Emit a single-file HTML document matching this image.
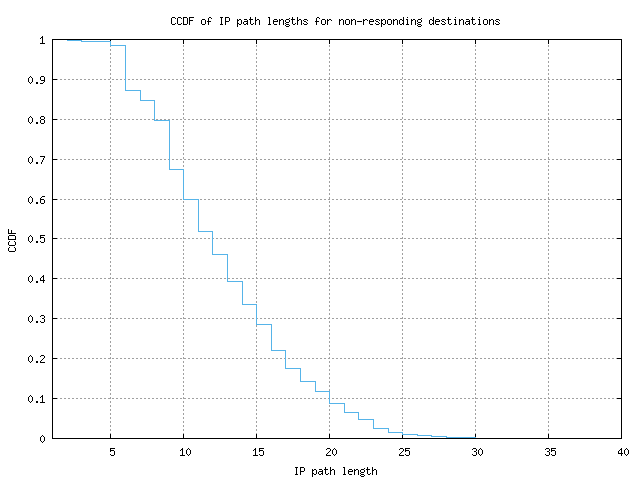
<!DOCTYPE html>
<html><head><meta charset="utf-8"><title>CCDF of IP path lengths for non-responding destinations</title>
<style>
html,body{margin:0;padding:0;background:#fff;overflow:hidden}
body{width:640px;height:480px;font-family:"Liberation Mono",monospace}
svg{display:block;position:absolute;left:0;top:0}
</style></head><body>
<svg width="640" height="480" viewBox="0 0 640 480" shape-rendering="crispEdges">
<title>CCDF of IP path lengths for non-responding destinations</title>
<desc>gnuplot step chart. X axis: IP path length (1 to 40, ticks 5 10 15 20 25 30 35 40). Y axis: CCDF (0 to 1, ticks 0 0.1 0.2 0.3 0.4 0.5 0.6 0.7 0.8 0.9 1). Sky-blue step curve falling from 1 at length 2 to 0 at length 30.</desc>
<rect width="640" height="480" fill="#fff"/>
<path fill="#a0a0a0" d="M110 41h1v2h-1zM183 41h1v2h-1zM256 41h1v2h-1zM329 41h1v2h-1zM402 41h1v2h-1zM475 41h1v2h-1zM548 41h1v2h-1zM110 45h1v2h-1zM183 45h1v2h-1zM256 45h1v2h-1zM329 45h1v2h-1zM402 45h1v2h-1zM475 45h1v2h-1zM548 45h1v2h-1zM110 49h1v2h-1zM183 49h1v2h-1zM256 49h1v2h-1zM329 49h1v2h-1zM402 49h1v2h-1zM475 49h1v2h-1zM548 49h1v2h-1zM110 53h1v2h-1zM183 53h1v2h-1zM256 53h1v2h-1zM329 53h1v2h-1zM402 53h1v2h-1zM475 53h1v2h-1zM548 53h1v2h-1zM110 57h1v2h-1zM183 57h1v2h-1zM256 57h1v2h-1zM329 57h1v2h-1zM402 57h1v2h-1zM475 57h1v2h-1zM548 57h1v2h-1zM110 61h1v2h-1zM183 61h1v2h-1zM256 61h1v2h-1zM329 61h1v2h-1zM402 61h1v2h-1zM475 61h1v2h-1zM548 61h1v2h-1zM110 65h1v2h-1zM183 65h1v2h-1zM256 65h1v2h-1zM329 65h1v2h-1zM402 65h1v2h-1zM475 65h1v2h-1zM548 65h1v2h-1zM110 69h1v2h-1zM183 69h1v2h-1zM256 69h1v2h-1zM329 69h1v2h-1zM402 69h1v2h-1zM475 69h1v2h-1zM548 69h1v2h-1zM110 73h1v2h-1zM183 73h1v2h-1zM256 73h1v2h-1zM329 73h1v2h-1zM402 73h1v2h-1zM475 73h1v2h-1zM548 73h1v2h-1zM110 77h1v2h-1zM183 77h1v2h-1zM256 77h1v2h-1zM329 77h1v2h-1zM402 77h1v2h-1zM475 77h1v2h-1zM548 77h1v2h-1zM52 79h2v1h-2zM56 79h2v1h-2zM60 79h2v1h-2zM64 79h2v1h-2zM68 79h2v1h-2zM72 79h2v1h-2zM76 79h2v1h-2zM80 79h2v1h-2zM84 79h2v1h-2zM88 79h2v1h-2zM92 79h2v1h-2zM96 79h2v1h-2zM100 79h2v1h-2zM104 79h2v1h-2zM108 79h2v1h-2zM112 79h2v1h-2zM116 79h2v1h-2zM120 79h2v1h-2zM124 79h2v1h-2zM128 79h2v1h-2zM132 79h2v1h-2zM136 79h2v1h-2zM140 79h2v1h-2zM144 79h2v1h-2zM148 79h2v1h-2zM152 79h2v1h-2zM156 79h2v1h-2zM160 79h2v1h-2zM164 79h2v1h-2zM168 79h2v1h-2zM172 79h2v1h-2zM176 79h2v1h-2zM180 79h2v1h-2zM184 79h2v1h-2zM188 79h2v1h-2zM192 79h2v1h-2zM196 79h2v1h-2zM200 79h2v1h-2zM204 79h2v1h-2zM208 79h2v1h-2zM212 79h2v1h-2zM216 79h2v1h-2zM220 79h2v1h-2zM224 79h2v1h-2zM228 79h2v1h-2zM232 79h2v1h-2zM236 79h2v1h-2zM240 79h2v1h-2zM244 79h2v1h-2zM248 79h2v1h-2zM252 79h2v1h-2zM256 79h2v1h-2zM260 79h2v1h-2zM264 79h2v1h-2zM268 79h2v1h-2zM272 79h2v1h-2zM276 79h2v1h-2zM280 79h2v1h-2zM284 79h2v1h-2zM288 79h2v1h-2zM292 79h2v1h-2zM296 79h2v1h-2zM300 79h2v1h-2zM304 79h2v1h-2zM308 79h2v1h-2zM312 79h2v1h-2zM316 79h2v1h-2zM320 79h2v1h-2zM324 79h2v1h-2zM328 79h2v1h-2zM332 79h2v1h-2zM336 79h2v1h-2zM340 79h2v1h-2zM344 79h2v1h-2zM348 79h2v1h-2zM352 79h2v1h-2zM356 79h2v1h-2zM360 79h2v1h-2zM364 79h2v1h-2zM368 79h2v1h-2zM372 79h2v1h-2zM376 79h2v1h-2zM380 79h2v1h-2zM384 79h2v1h-2zM388 79h2v1h-2zM392 79h2v1h-2zM396 79h2v1h-2zM400 79h2v1h-2zM404 79h2v1h-2zM408 79h2v1h-2zM412 79h2v1h-2zM416 79h2v1h-2zM420 79h2v1h-2zM424 79h2v1h-2zM428 79h2v1h-2zM432 79h2v1h-2zM436 79h2v1h-2zM440 79h2v1h-2zM444 79h2v1h-2zM448 79h2v1h-2zM452 79h2v1h-2zM456 79h2v1h-2zM460 79h2v1h-2zM464 79h2v1h-2zM468 79h2v1h-2zM472 79h2v1h-2zM476 79h2v1h-2zM480 79h2v1h-2zM484 79h2v1h-2zM488 79h2v1h-2zM492 79h2v1h-2zM496 79h2v1h-2zM500 79h2v1h-2zM504 79h2v1h-2zM508 79h2v1h-2zM512 79h2v1h-2zM516 79h2v1h-2zM520 79h2v1h-2zM524 79h2v1h-2zM528 79h2v1h-2zM532 79h2v1h-2zM536 79h2v1h-2zM540 79h2v1h-2zM544 79h2v1h-2zM548 79h2v1h-2zM552 79h2v1h-2zM556 79h2v1h-2zM560 79h2v1h-2zM564 79h2v1h-2zM568 79h2v1h-2zM572 79h2v1h-2zM576 79h2v1h-2zM580 79h2v1h-2zM584 79h2v1h-2zM588 79h2v1h-2zM592 79h2v1h-2zM596 79h2v1h-2zM600 79h2v1h-2zM604 79h2v1h-2zM608 79h2v1h-2zM612 79h2v1h-2zM616 79h2v1h-2zM620 79h2v1h-2zM110 81h1v2h-1zM183 81h1v2h-1zM256 81h1v2h-1zM329 81h1v2h-1zM402 81h1v2h-1zM475 81h1v2h-1zM548 81h1v2h-1zM110 85h1v2h-1zM183 85h1v2h-1zM256 85h1v2h-1zM329 85h1v2h-1zM402 85h1v2h-1zM475 85h1v2h-1zM548 85h1v2h-1zM110 89h1v2h-1zM183 89h1v2h-1zM256 89h1v2h-1zM329 89h1v2h-1zM402 89h1v2h-1zM475 89h1v2h-1zM548 89h1v2h-1zM110 93h1v2h-1zM183 93h1v2h-1zM256 93h1v2h-1zM329 93h1v2h-1zM402 93h1v2h-1zM475 93h1v2h-1zM548 93h1v2h-1zM110 97h1v2h-1zM183 97h1v2h-1zM256 97h1v2h-1zM329 97h1v2h-1zM402 97h1v2h-1zM475 97h1v2h-1zM548 97h1v2h-1zM110 101h1v2h-1zM183 101h1v2h-1zM256 101h1v2h-1zM329 101h1v2h-1zM402 101h1v2h-1zM475 101h1v2h-1zM548 101h1v2h-1zM110 105h1v2h-1zM183 105h1v2h-1zM256 105h1v2h-1zM329 105h1v2h-1zM402 105h1v2h-1zM475 105h1v2h-1zM548 105h1v2h-1zM110 109h1v2h-1zM183 109h1v2h-1zM256 109h1v2h-1zM329 109h1v2h-1zM402 109h1v2h-1zM475 109h1v2h-1zM548 109h1v2h-1zM110 113h1v2h-1zM183 113h1v2h-1zM256 113h1v2h-1zM329 113h1v2h-1zM402 113h1v2h-1zM475 113h1v2h-1zM548 113h1v2h-1zM110 117h1v2h-1zM183 117h1v2h-1zM256 117h1v2h-1zM329 117h1v2h-1zM402 117h1v2h-1zM475 117h1v2h-1zM548 117h1v2h-1zM52 119h2v1h-2zM56 119h2v1h-2zM60 119h2v1h-2zM64 119h2v1h-2zM68 119h2v1h-2zM72 119h2v1h-2zM76 119h2v1h-2zM80 119h2v1h-2zM84 119h2v1h-2zM88 119h2v1h-2zM92 119h2v1h-2zM96 119h2v1h-2zM100 119h2v1h-2zM104 119h2v1h-2zM108 119h2v1h-2zM112 119h2v1h-2zM116 119h2v1h-2zM120 119h2v1h-2zM124 119h2v1h-2zM128 119h2v1h-2zM132 119h2v1h-2zM136 119h2v1h-2zM140 119h2v1h-2zM144 119h2v1h-2zM148 119h2v1h-2zM152 119h2v1h-2zM156 119h2v1h-2zM160 119h2v1h-2zM164 119h2v1h-2zM168 119h2v1h-2zM172 119h2v1h-2zM176 119h2v1h-2zM180 119h2v1h-2zM184 119h2v1h-2zM188 119h2v1h-2zM192 119h2v1h-2zM196 119h2v1h-2zM200 119h2v1h-2zM204 119h2v1h-2zM208 119h2v1h-2zM212 119h2v1h-2zM216 119h2v1h-2zM220 119h2v1h-2zM224 119h2v1h-2zM228 119h2v1h-2zM232 119h2v1h-2zM236 119h2v1h-2zM240 119h2v1h-2zM244 119h2v1h-2zM248 119h2v1h-2zM252 119h2v1h-2zM256 119h2v1h-2zM260 119h2v1h-2zM264 119h2v1h-2zM268 119h2v1h-2zM272 119h2v1h-2zM276 119h2v1h-2zM280 119h2v1h-2zM284 119h2v1h-2zM288 119h2v1h-2zM292 119h2v1h-2zM296 119h2v1h-2zM300 119h2v1h-2zM304 119h2v1h-2zM308 119h2v1h-2zM312 119h2v1h-2zM316 119h2v1h-2zM320 119h2v1h-2zM324 119h2v1h-2zM328 119h2v1h-2zM332 119h2v1h-2zM336 119h2v1h-2zM340 119h2v1h-2zM344 119h2v1h-2zM348 119h2v1h-2zM352 119h2v1h-2zM356 119h2v1h-2zM360 119h2v1h-2zM364 119h2v1h-2zM368 119h2v1h-2zM372 119h2v1h-2zM376 119h2v1h-2zM380 119h2v1h-2zM384 119h2v1h-2zM388 119h2v1h-2zM392 119h2v1h-2zM396 119h2v1h-2zM400 119h2v1h-2zM404 119h2v1h-2zM408 119h2v1h-2zM412 119h2v1h-2zM416 119h2v1h-2zM420 119h2v1h-2zM424 119h2v1h-2zM428 119h2v1h-2zM432 119h2v1h-2zM436 119h2v1h-2zM440 119h2v1h-2zM444 119h2v1h-2zM448 119h2v1h-2zM452 119h2v1h-2zM456 119h2v1h-2zM460 119h2v1h-2zM464 119h2v1h-2zM468 119h2v1h-2zM472 119h2v1h-2zM476 119h2v1h-2zM480 119h2v1h-2zM484 119h2v1h-2zM488 119h2v1h-2zM492 119h2v1h-2zM496 119h2v1h-2zM500 119h2v1h-2zM504 119h2v1h-2zM508 119h2v1h-2zM512 119h2v1h-2zM516 119h2v1h-2zM520 119h2v1h-2zM524 119h2v1h-2zM528 119h2v1h-2zM532 119h2v1h-2zM536 119h2v1h-2zM540 119h2v1h-2zM544 119h2v1h-2zM548 119h2v1h-2zM552 119h2v1h-2zM556 119h2v1h-2zM560 119h2v1h-2zM564 119h2v1h-2zM568 119h2v1h-2zM572 119h2v1h-2zM576 119h2v1h-2zM580 119h2v1h-2zM584 119h2v1h-2zM588 119h2v1h-2zM592 119h2v1h-2zM596 119h2v1h-2zM600 119h2v1h-2zM604 119h2v1h-2zM608 119h2v1h-2zM612 119h2v1h-2zM616 119h2v1h-2zM620 119h2v1h-2zM110 121h1v2h-1zM183 121h1v2h-1zM256 121h1v2h-1zM329 121h1v2h-1zM402 121h1v2h-1zM475 121h1v2h-1zM548 121h1v2h-1zM110 125h1v2h-1zM183 125h1v2h-1zM256 125h1v2h-1zM329 125h1v2h-1zM402 125h1v2h-1zM475 125h1v2h-1zM548 125h1v2h-1zM110 129h1v2h-1zM183 129h1v2h-1zM256 129h1v2h-1zM329 129h1v2h-1zM402 129h1v2h-1zM475 129h1v2h-1zM548 129h1v2h-1zM110 133h1v2h-1zM183 133h1v2h-1zM256 133h1v2h-1zM329 133h1v2h-1zM402 133h1v2h-1zM475 133h1v2h-1zM548 133h1v2h-1zM110 137h1v2h-1zM183 137h1v2h-1zM256 137h1v2h-1zM329 137h1v2h-1zM402 137h1v2h-1zM475 137h1v2h-1zM548 137h1v2h-1zM110 141h1v2h-1zM183 141h1v2h-1zM256 141h1v2h-1zM329 141h1v2h-1zM402 141h1v2h-1zM475 141h1v2h-1zM548 141h1v2h-1zM110 145h1v2h-1zM183 145h1v2h-1zM256 145h1v2h-1zM329 145h1v2h-1zM402 145h1v2h-1zM475 145h1v2h-1zM548 145h1v2h-1zM110 149h1v2h-1zM183 149h1v2h-1zM256 149h1v2h-1zM329 149h1v2h-1zM402 149h1v2h-1zM475 149h1v2h-1zM548 149h1v2h-1zM110 153h1v2h-1zM183 153h1v2h-1zM256 153h1v2h-1zM329 153h1v2h-1zM402 153h1v2h-1zM475 153h1v2h-1zM548 153h1v2h-1zM110 157h1v2h-1zM183 157h1v2h-1zM256 157h1v2h-1zM329 157h1v2h-1zM402 157h1v2h-1zM475 157h1v2h-1zM548 157h1v2h-1zM52 159h2v1h-2zM56 159h2v1h-2zM60 159h2v1h-2zM64 159h2v1h-2zM68 159h2v1h-2zM72 159h2v1h-2zM76 159h2v1h-2zM80 159h2v1h-2zM84 159h2v1h-2zM88 159h2v1h-2zM92 159h2v1h-2zM96 159h2v1h-2zM100 159h2v1h-2zM104 159h2v1h-2zM108 159h2v1h-2zM112 159h2v1h-2zM116 159h2v1h-2zM120 159h2v1h-2zM124 159h2v1h-2zM128 159h2v1h-2zM132 159h2v1h-2zM136 159h2v1h-2zM140 159h2v1h-2zM144 159h2v1h-2zM148 159h2v1h-2zM152 159h2v1h-2zM156 159h2v1h-2zM160 159h2v1h-2zM164 159h2v1h-2zM168 159h2v1h-2zM172 159h2v1h-2zM176 159h2v1h-2zM180 159h2v1h-2zM184 159h2v1h-2zM188 159h2v1h-2zM192 159h2v1h-2zM196 159h2v1h-2zM200 159h2v1h-2zM204 159h2v1h-2zM208 159h2v1h-2zM212 159h2v1h-2zM216 159h2v1h-2zM220 159h2v1h-2zM224 159h2v1h-2zM228 159h2v1h-2zM232 159h2v1h-2zM236 159h2v1h-2zM240 159h2v1h-2zM244 159h2v1h-2zM248 159h2v1h-2zM252 159h2v1h-2zM256 159h2v1h-2zM260 159h2v1h-2zM264 159h2v1h-2zM268 159h2v1h-2zM272 159h2v1h-2zM276 159h2v1h-2zM280 159h2v1h-2zM284 159h2v1h-2zM288 159h2v1h-2zM292 159h2v1h-2zM296 159h2v1h-2zM300 159h2v1h-2zM304 159h2v1h-2zM308 159h2v1h-2zM312 159h2v1h-2zM316 159h2v1h-2zM320 159h2v1h-2zM324 159h2v1h-2zM328 159h2v1h-2zM332 159h2v1h-2zM336 159h2v1h-2zM340 159h2v1h-2zM344 159h2v1h-2zM348 159h2v1h-2zM352 159h2v1h-2zM356 159h2v1h-2zM360 159h2v1h-2zM364 159h2v1h-2zM368 159h2v1h-2zM372 159h2v1h-2zM376 159h2v1h-2zM380 159h2v1h-2zM384 159h2v1h-2zM388 159h2v1h-2zM392 159h2v1h-2zM396 159h2v1h-2zM400 159h2v1h-2zM404 159h2v1h-2zM408 159h2v1h-2zM412 159h2v1h-2zM416 159h2v1h-2zM420 159h2v1h-2zM424 159h2v1h-2zM428 159h2v1h-2zM432 159h2v1h-2zM436 159h2v1h-2zM440 159h2v1h-2zM444 159h2v1h-2zM448 159h2v1h-2zM452 159h2v1h-2zM456 159h2v1h-2zM460 159h2v1h-2zM464 159h2v1h-2zM468 159h2v1h-2zM472 159h2v1h-2zM476 159h2v1h-2zM480 159h2v1h-2zM484 159h2v1h-2zM488 159h2v1h-2zM492 159h2v1h-2zM496 159h2v1h-2zM500 159h2v1h-2zM504 159h2v1h-2zM508 159h2v1h-2zM512 159h2v1h-2zM516 159h2v1h-2zM520 159h2v1h-2zM524 159h2v1h-2zM528 159h2v1h-2zM532 159h2v1h-2zM536 159h2v1h-2zM540 159h2v1h-2zM544 159h2v1h-2zM548 159h2v1h-2zM552 159h2v1h-2zM556 159h2v1h-2zM560 159h2v1h-2zM564 159h2v1h-2zM568 159h2v1h-2zM572 159h2v1h-2zM576 159h2v1h-2zM580 159h2v1h-2zM584 159h2v1h-2zM588 159h2v1h-2zM592 159h2v1h-2zM596 159h2v1h-2zM600 159h2v1h-2zM604 159h2v1h-2zM608 159h2v1h-2zM612 159h2v1h-2zM616 159h2v1h-2zM620 159h2v1h-2zM110 161h1v2h-1zM183 161h1v2h-1zM256 161h1v2h-1zM329 161h1v2h-1zM402 161h1v2h-1zM475 161h1v2h-1zM548 161h1v2h-1zM110 165h1v2h-1zM183 165h1v2h-1zM256 165h1v2h-1zM329 165h1v2h-1zM402 165h1v2h-1zM475 165h1v2h-1zM548 165h1v2h-1zM110 169h1v2h-1zM183 169h1v2h-1zM256 169h1v2h-1zM329 169h1v2h-1zM402 169h1v2h-1zM475 169h1v2h-1zM548 169h1v2h-1zM110 173h1v2h-1zM183 173h1v2h-1zM256 173h1v2h-1zM329 173h1v2h-1zM402 173h1v2h-1zM475 173h1v2h-1zM548 173h1v2h-1zM110 177h1v2h-1zM183 177h1v2h-1zM256 177h1v2h-1zM329 177h1v2h-1zM402 177h1v2h-1zM475 177h1v2h-1zM548 177h1v2h-1zM110 181h1v2h-1zM183 181h1v2h-1zM256 181h1v2h-1zM329 181h1v2h-1zM402 181h1v2h-1zM475 181h1v2h-1zM548 181h1v2h-1zM110 185h1v2h-1zM183 185h1v2h-1zM256 185h1v2h-1zM329 185h1v2h-1zM402 185h1v2h-1zM475 185h1v2h-1zM548 185h1v2h-1zM110 189h1v2h-1zM183 189h1v2h-1zM256 189h1v2h-1zM329 189h1v2h-1zM402 189h1v2h-1zM475 189h1v2h-1zM548 189h1v2h-1zM110 193h1v2h-1zM183 193h1v2h-1zM256 193h1v2h-1zM329 193h1v2h-1zM402 193h1v2h-1zM475 193h1v2h-1zM548 193h1v2h-1zM110 197h1v2h-1zM183 197h1v2h-1zM256 197h1v2h-1zM329 197h1v2h-1zM402 197h1v2h-1zM475 197h1v2h-1zM548 197h1v2h-1zM52 199h2v1h-2zM56 199h2v1h-2zM60 199h2v1h-2zM64 199h2v1h-2zM68 199h2v1h-2zM72 199h2v1h-2zM76 199h2v1h-2zM80 199h2v1h-2zM84 199h2v1h-2zM88 199h2v1h-2zM92 199h2v1h-2zM96 199h2v1h-2zM100 199h2v1h-2zM104 199h2v1h-2zM108 199h2v1h-2zM112 199h2v1h-2zM116 199h2v1h-2zM120 199h2v1h-2zM124 199h2v1h-2zM128 199h2v1h-2zM132 199h2v1h-2zM136 199h2v1h-2zM140 199h2v1h-2zM144 199h2v1h-2zM148 199h2v1h-2zM152 199h2v1h-2zM156 199h2v1h-2zM160 199h2v1h-2zM164 199h2v1h-2zM168 199h2v1h-2zM172 199h2v1h-2zM176 199h2v1h-2zM180 199h2v1h-2zM184 199h2v1h-2zM188 199h2v1h-2zM192 199h2v1h-2zM196 199h2v1h-2zM200 199h2v1h-2zM204 199h2v1h-2zM208 199h2v1h-2zM212 199h2v1h-2zM216 199h2v1h-2zM220 199h2v1h-2zM224 199h2v1h-2zM228 199h2v1h-2zM232 199h2v1h-2zM236 199h2v1h-2zM240 199h2v1h-2zM244 199h2v1h-2zM248 199h2v1h-2zM252 199h2v1h-2zM256 199h2v1h-2zM260 199h2v1h-2zM264 199h2v1h-2zM268 199h2v1h-2zM272 199h2v1h-2zM276 199h2v1h-2zM280 199h2v1h-2zM284 199h2v1h-2zM288 199h2v1h-2zM292 199h2v1h-2zM296 199h2v1h-2zM300 199h2v1h-2zM304 199h2v1h-2zM308 199h2v1h-2zM312 199h2v1h-2zM316 199h2v1h-2zM320 199h2v1h-2zM324 199h2v1h-2zM328 199h2v1h-2zM332 199h2v1h-2zM336 199h2v1h-2zM340 199h2v1h-2zM344 199h2v1h-2zM348 199h2v1h-2zM352 199h2v1h-2zM356 199h2v1h-2zM360 199h2v1h-2zM364 199h2v1h-2zM368 199h2v1h-2zM372 199h2v1h-2zM376 199h2v1h-2zM380 199h2v1h-2zM384 199h2v1h-2zM388 199h2v1h-2zM392 199h2v1h-2zM396 199h2v1h-2zM400 199h2v1h-2zM404 199h2v1h-2zM408 199h2v1h-2zM412 199h2v1h-2zM416 199h2v1h-2zM420 199h2v1h-2zM424 199h2v1h-2zM428 199h2v1h-2zM432 199h2v1h-2zM436 199h2v1h-2zM440 199h2v1h-2zM444 199h2v1h-2zM448 199h2v1h-2zM452 199h2v1h-2zM456 199h2v1h-2zM460 199h2v1h-2zM464 199h2v1h-2zM468 199h2v1h-2zM472 199h2v1h-2zM476 199h2v1h-2zM480 199h2v1h-2zM484 199h2v1h-2zM488 199h2v1h-2zM492 199h2v1h-2zM496 199h2v1h-2zM500 199h2v1h-2zM504 199h2v1h-2zM508 199h2v1h-2zM512 199h2v1h-2zM516 199h2v1h-2zM520 199h2v1h-2zM524 199h2v1h-2zM528 199h2v1h-2zM532 199h2v1h-2zM536 199h2v1h-2zM540 199h2v1h-2zM544 199h2v1h-2zM548 199h2v1h-2zM552 199h2v1h-2zM556 199h2v1h-2zM560 199h2v1h-2zM564 199h2v1h-2zM568 199h2v1h-2zM572 199h2v1h-2zM576 199h2v1h-2zM580 199h2v1h-2zM584 199h2v1h-2zM588 199h2v1h-2zM592 199h2v1h-2zM596 199h2v1h-2zM600 199h2v1h-2zM604 199h2v1h-2zM608 199h2v1h-2zM612 199h2v1h-2zM616 199h2v1h-2zM620 199h2v1h-2zM110 201h1v2h-1zM183 201h1v2h-1zM256 201h1v2h-1zM329 201h1v2h-1zM402 201h1v2h-1zM475 201h1v2h-1zM548 201h1v2h-1zM110 205h1v2h-1zM183 205h1v2h-1zM256 205h1v2h-1zM329 205h1v2h-1zM402 205h1v2h-1zM475 205h1v2h-1zM548 205h1v2h-1zM110 209h1v2h-1zM183 209h1v2h-1zM256 209h1v2h-1zM329 209h1v2h-1zM402 209h1v2h-1zM475 209h1v2h-1zM548 209h1v2h-1zM110 213h1v2h-1zM183 213h1v2h-1zM256 213h1v2h-1zM329 213h1v2h-1zM402 213h1v2h-1zM475 213h1v2h-1zM548 213h1v2h-1zM110 217h1v2h-1zM183 217h1v2h-1zM256 217h1v2h-1zM329 217h1v2h-1zM402 217h1v2h-1zM475 217h1v2h-1zM548 217h1v2h-1zM110 221h1v2h-1zM183 221h1v2h-1zM256 221h1v2h-1zM329 221h1v2h-1zM402 221h1v2h-1zM475 221h1v2h-1zM548 221h1v2h-1zM110 225h1v2h-1zM183 225h1v2h-1zM256 225h1v2h-1zM329 225h1v2h-1zM402 225h1v2h-1zM475 225h1v2h-1zM548 225h1v2h-1zM110 229h1v2h-1zM183 229h1v2h-1zM256 229h1v2h-1zM329 229h1v2h-1zM402 229h1v2h-1zM475 229h1v2h-1zM548 229h1v2h-1zM110 233h1v2h-1zM183 233h1v2h-1zM256 233h1v2h-1zM329 233h1v2h-1zM402 233h1v2h-1zM475 233h1v2h-1zM548 233h1v2h-1zM110 237h1v1h-1zM183 237h1v1h-1zM256 237h1v1h-1zM329 237h1v1h-1zM402 237h1v1h-1zM475 237h1v1h-1zM548 237h1v1h-1zM52 238h2v1h-2zM56 238h2v1h-2zM60 238h2v1h-2zM64 238h2v1h-2zM68 238h2v1h-2zM72 238h2v1h-2zM76 238h2v1h-2zM80 238h2v1h-2zM84 238h2v1h-2zM88 238h2v1h-2zM92 238h2v1h-2zM96 238h2v1h-2zM100 238h2v1h-2zM104 238h2v1h-2zM108 238h3v1h-3zM112 238h2v1h-2zM116 238h2v1h-2zM120 238h2v1h-2zM124 238h2v1h-2zM128 238h2v1h-2zM132 238h2v1h-2zM136 238h2v1h-2zM140 238h2v1h-2zM144 238h2v1h-2zM148 238h2v1h-2zM152 238h2v1h-2zM156 238h2v1h-2zM160 238h2v1h-2zM164 238h2v1h-2zM168 238h2v1h-2zM172 238h2v1h-2zM176 238h2v1h-2zM180 238h2v1h-2zM183 238h3v1h-3zM188 238h2v1h-2zM192 238h2v1h-2zM196 238h2v1h-2zM200 238h2v1h-2zM204 238h2v1h-2zM208 238h2v1h-2zM212 238h2v1h-2zM216 238h2v1h-2zM220 238h2v1h-2zM224 238h2v1h-2zM228 238h2v1h-2zM232 238h2v1h-2zM236 238h2v1h-2zM240 238h2v1h-2zM244 238h2v1h-2zM248 238h2v1h-2zM252 238h2v1h-2zM256 238h2v1h-2zM260 238h2v1h-2zM264 238h2v1h-2zM268 238h2v1h-2zM272 238h2v1h-2zM276 238h2v1h-2zM280 238h2v1h-2zM284 238h2v1h-2zM288 238h2v1h-2zM292 238h2v1h-2zM296 238h2v1h-2zM300 238h2v1h-2zM304 238h2v1h-2zM308 238h2v1h-2zM312 238h2v1h-2zM316 238h2v1h-2zM320 238h2v1h-2zM324 238h2v1h-2zM328 238h2v1h-2zM332 238h2v1h-2zM336 238h2v1h-2zM340 238h2v1h-2zM344 238h2v1h-2zM348 238h2v1h-2zM352 238h2v1h-2zM356 238h2v1h-2zM360 238h2v1h-2zM364 238h2v1h-2zM368 238h2v1h-2zM372 238h2v1h-2zM376 238h2v1h-2zM380 238h2v1h-2zM384 238h2v1h-2zM388 238h2v1h-2zM392 238h2v1h-2zM396 238h2v1h-2zM400 238h3v1h-3zM404 238h2v1h-2zM408 238h2v1h-2zM412 238h2v1h-2zM416 238h2v1h-2zM420 238h2v1h-2zM424 238h2v1h-2zM428 238h2v1h-2zM432 238h2v1h-2zM436 238h2v1h-2zM440 238h2v1h-2zM444 238h2v1h-2zM448 238h2v1h-2zM452 238h2v1h-2zM456 238h2v1h-2zM460 238h2v1h-2zM464 238h2v1h-2zM468 238h2v1h-2zM472 238h2v1h-2zM475 238h3v1h-3zM480 238h2v1h-2zM484 238h2v1h-2zM488 238h2v1h-2zM492 238h2v1h-2zM496 238h2v1h-2zM500 238h2v1h-2zM504 238h2v1h-2zM508 238h2v1h-2zM512 238h2v1h-2zM516 238h2v1h-2zM520 238h2v1h-2zM524 238h2v1h-2zM528 238h2v1h-2zM532 238h2v1h-2zM536 238h2v1h-2zM540 238h2v1h-2zM544 238h2v1h-2zM548 238h2v1h-2zM552 238h2v1h-2zM556 238h2v1h-2zM560 238h2v1h-2zM564 238h2v1h-2zM568 238h2v1h-2zM572 238h2v1h-2zM576 238h2v1h-2zM580 238h2v1h-2zM584 238h2v1h-2zM588 238h2v1h-2zM592 238h2v1h-2zM596 238h2v1h-2zM600 238h2v1h-2zM604 238h2v1h-2zM608 238h2v1h-2zM612 238h2v1h-2zM616 238h2v1h-2zM620 238h2v1h-2zM110 241h1v2h-1zM183 241h1v2h-1zM256 241h1v2h-1zM329 241h1v2h-1zM402 241h1v2h-1zM475 241h1v2h-1zM548 241h1v2h-1zM110 245h1v2h-1zM183 245h1v2h-1zM256 245h1v2h-1zM329 245h1v2h-1zM402 245h1v2h-1zM475 245h1v2h-1zM548 245h1v2h-1zM110 249h1v2h-1zM183 249h1v2h-1zM256 249h1v2h-1zM329 249h1v2h-1zM402 249h1v2h-1zM475 249h1v2h-1zM548 249h1v2h-1zM110 253h1v2h-1zM183 253h1v2h-1zM256 253h1v2h-1zM329 253h1v2h-1zM402 253h1v2h-1zM475 253h1v2h-1zM548 253h1v2h-1zM110 257h1v2h-1zM183 257h1v2h-1zM256 257h1v2h-1zM329 257h1v2h-1zM402 257h1v2h-1zM475 257h1v2h-1zM548 257h1v2h-1zM110 261h1v2h-1zM183 261h1v2h-1zM256 261h1v2h-1zM329 261h1v2h-1zM402 261h1v2h-1zM475 261h1v2h-1zM548 261h1v2h-1zM110 265h1v2h-1zM183 265h1v2h-1zM256 265h1v2h-1zM329 265h1v2h-1zM402 265h1v2h-1zM475 265h1v2h-1zM548 265h1v2h-1zM110 269h1v2h-1zM183 269h1v2h-1zM256 269h1v2h-1zM329 269h1v2h-1zM402 269h1v2h-1zM475 269h1v2h-1zM548 269h1v2h-1zM110 273h1v2h-1zM183 273h1v2h-1zM256 273h1v2h-1zM329 273h1v2h-1zM402 273h1v2h-1zM475 273h1v2h-1zM548 273h1v2h-1zM110 277h1v1h-1zM183 277h1v1h-1zM256 277h1v1h-1zM329 277h1v1h-1zM402 277h1v1h-1zM475 277h1v1h-1zM548 277h1v1h-1zM52 278h2v1h-2zM56 278h2v1h-2zM60 278h2v1h-2zM64 278h2v1h-2zM68 278h2v1h-2zM72 278h2v1h-2zM76 278h2v1h-2zM80 278h2v1h-2zM84 278h2v1h-2zM88 278h2v1h-2zM92 278h2v1h-2zM96 278h2v1h-2zM100 278h2v1h-2zM104 278h2v1h-2zM108 278h3v1h-3zM112 278h2v1h-2zM116 278h2v1h-2zM120 278h2v1h-2zM124 278h2v1h-2zM128 278h2v1h-2zM132 278h2v1h-2zM136 278h2v1h-2zM140 278h2v1h-2zM144 278h2v1h-2zM148 278h2v1h-2zM152 278h2v1h-2zM156 278h2v1h-2zM160 278h2v1h-2zM164 278h2v1h-2zM168 278h2v1h-2zM172 278h2v1h-2zM176 278h2v1h-2zM180 278h2v1h-2zM183 278h3v1h-3zM188 278h2v1h-2zM192 278h2v1h-2zM196 278h2v1h-2zM200 278h2v1h-2zM204 278h2v1h-2zM208 278h2v1h-2zM212 278h2v1h-2zM216 278h2v1h-2zM220 278h2v1h-2zM224 278h2v1h-2zM228 278h2v1h-2zM232 278h2v1h-2zM236 278h2v1h-2zM240 278h2v1h-2zM244 278h2v1h-2zM248 278h2v1h-2zM252 278h2v1h-2zM256 278h2v1h-2zM260 278h2v1h-2zM264 278h2v1h-2zM268 278h2v1h-2zM272 278h2v1h-2zM276 278h2v1h-2zM280 278h2v1h-2zM284 278h2v1h-2zM288 278h2v1h-2zM292 278h2v1h-2zM296 278h2v1h-2zM300 278h2v1h-2zM304 278h2v1h-2zM308 278h2v1h-2zM312 278h2v1h-2zM316 278h2v1h-2zM320 278h2v1h-2zM324 278h2v1h-2zM328 278h2v1h-2zM332 278h2v1h-2zM336 278h2v1h-2zM340 278h2v1h-2zM344 278h2v1h-2zM348 278h2v1h-2zM352 278h2v1h-2zM356 278h2v1h-2zM360 278h2v1h-2zM364 278h2v1h-2zM368 278h2v1h-2zM372 278h2v1h-2zM376 278h2v1h-2zM380 278h2v1h-2zM384 278h2v1h-2zM388 278h2v1h-2zM392 278h2v1h-2zM396 278h2v1h-2zM400 278h3v1h-3zM404 278h2v1h-2zM408 278h2v1h-2zM412 278h2v1h-2zM416 278h2v1h-2zM420 278h2v1h-2zM424 278h2v1h-2zM428 278h2v1h-2zM432 278h2v1h-2zM436 278h2v1h-2zM440 278h2v1h-2zM444 278h2v1h-2zM448 278h2v1h-2zM452 278h2v1h-2zM456 278h2v1h-2zM460 278h2v1h-2zM464 278h2v1h-2zM468 278h2v1h-2zM472 278h2v1h-2zM475 278h3v1h-3zM480 278h2v1h-2zM484 278h2v1h-2zM488 278h2v1h-2zM492 278h2v1h-2zM496 278h2v1h-2zM500 278h2v1h-2zM504 278h2v1h-2zM508 278h2v1h-2zM512 278h2v1h-2zM516 278h2v1h-2zM520 278h2v1h-2zM524 278h2v1h-2zM528 278h2v1h-2zM532 278h2v1h-2zM536 278h2v1h-2zM540 278h2v1h-2zM544 278h2v1h-2zM548 278h2v1h-2zM552 278h2v1h-2zM556 278h2v1h-2zM560 278h2v1h-2zM564 278h2v1h-2zM568 278h2v1h-2zM572 278h2v1h-2zM576 278h2v1h-2zM580 278h2v1h-2zM584 278h2v1h-2zM588 278h2v1h-2zM592 278h2v1h-2zM596 278h2v1h-2zM600 278h2v1h-2zM604 278h2v1h-2zM608 278h2v1h-2zM612 278h2v1h-2zM616 278h2v1h-2zM620 278h2v1h-2zM110 281h1v2h-1zM183 281h1v2h-1zM256 281h1v2h-1zM329 281h1v2h-1zM402 281h1v2h-1zM475 281h1v2h-1zM548 281h1v2h-1zM110 285h1v2h-1zM183 285h1v2h-1zM256 285h1v2h-1zM329 285h1v2h-1zM402 285h1v2h-1zM475 285h1v2h-1zM548 285h1v2h-1zM110 289h1v2h-1zM183 289h1v2h-1zM256 289h1v2h-1zM329 289h1v2h-1zM402 289h1v2h-1zM475 289h1v2h-1zM548 289h1v2h-1zM110 293h1v2h-1zM183 293h1v2h-1zM256 293h1v2h-1zM329 293h1v2h-1zM402 293h1v2h-1zM475 293h1v2h-1zM548 293h1v2h-1zM110 297h1v2h-1zM183 297h1v2h-1zM256 297h1v2h-1zM329 297h1v2h-1zM402 297h1v2h-1zM475 297h1v2h-1zM548 297h1v2h-1zM110 301h1v2h-1zM183 301h1v2h-1zM256 301h1v2h-1zM329 301h1v2h-1zM402 301h1v2h-1zM475 301h1v2h-1zM548 301h1v2h-1zM110 305h1v2h-1zM183 305h1v2h-1zM256 305h1v2h-1zM329 305h1v2h-1zM402 305h1v2h-1zM475 305h1v2h-1zM548 305h1v2h-1zM110 309h1v2h-1zM183 309h1v2h-1zM256 309h1v2h-1zM329 309h1v2h-1zM402 309h1v2h-1zM475 309h1v2h-1zM548 309h1v2h-1zM110 313h1v2h-1zM183 313h1v2h-1zM256 313h1v2h-1zM329 313h1v2h-1zM402 313h1v2h-1zM475 313h1v2h-1zM548 313h1v2h-1zM110 317h1v1h-1zM183 317h1v1h-1zM256 317h1v1h-1zM329 317h1v1h-1zM402 317h1v1h-1zM475 317h1v1h-1zM548 317h1v1h-1zM52 318h2v1h-2zM56 318h2v1h-2zM60 318h2v1h-2zM64 318h2v1h-2zM68 318h2v1h-2zM72 318h2v1h-2zM76 318h2v1h-2zM80 318h2v1h-2zM84 318h2v1h-2zM88 318h2v1h-2zM92 318h2v1h-2zM96 318h2v1h-2zM100 318h2v1h-2zM104 318h2v1h-2zM108 318h3v1h-3zM112 318h2v1h-2zM116 318h2v1h-2zM120 318h2v1h-2zM124 318h2v1h-2zM128 318h2v1h-2zM132 318h2v1h-2zM136 318h2v1h-2zM140 318h2v1h-2zM144 318h2v1h-2zM148 318h2v1h-2zM152 318h2v1h-2zM156 318h2v1h-2zM160 318h2v1h-2zM164 318h2v1h-2zM168 318h2v1h-2zM172 318h2v1h-2zM176 318h2v1h-2zM180 318h2v1h-2zM183 318h3v1h-3zM188 318h2v1h-2zM192 318h2v1h-2zM196 318h2v1h-2zM200 318h2v1h-2zM204 318h2v1h-2zM208 318h2v1h-2zM212 318h2v1h-2zM216 318h2v1h-2zM220 318h2v1h-2zM224 318h2v1h-2zM228 318h2v1h-2zM232 318h2v1h-2zM236 318h2v1h-2zM240 318h2v1h-2zM244 318h2v1h-2zM248 318h2v1h-2zM252 318h2v1h-2zM256 318h2v1h-2zM260 318h2v1h-2zM264 318h2v1h-2zM268 318h2v1h-2zM272 318h2v1h-2zM276 318h2v1h-2zM280 318h2v1h-2zM284 318h2v1h-2zM288 318h2v1h-2zM292 318h2v1h-2zM296 318h2v1h-2zM300 318h2v1h-2zM304 318h2v1h-2zM308 318h2v1h-2zM312 318h2v1h-2zM316 318h2v1h-2zM320 318h2v1h-2zM324 318h2v1h-2zM328 318h2v1h-2zM332 318h2v1h-2zM336 318h2v1h-2zM340 318h2v1h-2zM344 318h2v1h-2zM348 318h2v1h-2zM352 318h2v1h-2zM356 318h2v1h-2zM360 318h2v1h-2zM364 318h2v1h-2zM368 318h2v1h-2zM372 318h2v1h-2zM376 318h2v1h-2zM380 318h2v1h-2zM384 318h2v1h-2zM388 318h2v1h-2zM392 318h2v1h-2zM396 318h2v1h-2zM400 318h3v1h-3zM404 318h2v1h-2zM408 318h2v1h-2zM412 318h2v1h-2zM416 318h2v1h-2zM420 318h2v1h-2zM424 318h2v1h-2zM428 318h2v1h-2zM432 318h2v1h-2zM436 318h2v1h-2zM440 318h2v1h-2zM444 318h2v1h-2zM448 318h2v1h-2zM452 318h2v1h-2zM456 318h2v1h-2zM460 318h2v1h-2zM464 318h2v1h-2zM468 318h2v1h-2zM472 318h2v1h-2zM475 318h3v1h-3zM480 318h2v1h-2zM484 318h2v1h-2zM488 318h2v1h-2zM492 318h2v1h-2zM496 318h2v1h-2zM500 318h2v1h-2zM504 318h2v1h-2zM508 318h2v1h-2zM512 318h2v1h-2zM516 318h2v1h-2zM520 318h2v1h-2zM524 318h2v1h-2zM528 318h2v1h-2zM532 318h2v1h-2zM536 318h2v1h-2zM540 318h2v1h-2zM544 318h2v1h-2zM548 318h2v1h-2zM552 318h2v1h-2zM556 318h2v1h-2zM560 318h2v1h-2zM564 318h2v1h-2zM568 318h2v1h-2zM572 318h2v1h-2zM576 318h2v1h-2zM580 318h2v1h-2zM584 318h2v1h-2zM588 318h2v1h-2zM592 318h2v1h-2zM596 318h2v1h-2zM600 318h2v1h-2zM604 318h2v1h-2zM608 318h2v1h-2zM612 318h2v1h-2zM616 318h2v1h-2zM620 318h2v1h-2zM110 321h1v2h-1zM183 321h1v2h-1zM256 321h1v2h-1zM329 321h1v2h-1zM402 321h1v2h-1zM475 321h1v2h-1zM548 321h1v2h-1zM110 325h1v2h-1zM183 325h1v2h-1zM256 325h1v2h-1zM329 325h1v2h-1zM402 325h1v2h-1zM475 325h1v2h-1zM548 325h1v2h-1zM110 329h1v2h-1zM183 329h1v2h-1zM256 329h1v2h-1zM329 329h1v2h-1zM402 329h1v2h-1zM475 329h1v2h-1zM548 329h1v2h-1zM110 333h1v2h-1zM183 333h1v2h-1zM256 333h1v2h-1zM329 333h1v2h-1zM402 333h1v2h-1zM475 333h1v2h-1zM548 333h1v2h-1zM110 337h1v2h-1zM183 337h1v2h-1zM256 337h1v2h-1zM329 337h1v2h-1zM402 337h1v2h-1zM475 337h1v2h-1zM548 337h1v2h-1zM110 341h1v2h-1zM183 341h1v2h-1zM256 341h1v2h-1zM329 341h1v2h-1zM402 341h1v2h-1zM475 341h1v2h-1zM548 341h1v2h-1zM110 345h1v2h-1zM183 345h1v2h-1zM256 345h1v2h-1zM329 345h1v2h-1zM402 345h1v2h-1zM475 345h1v2h-1zM548 345h1v2h-1zM110 349h1v2h-1zM183 349h1v2h-1zM256 349h1v2h-1zM329 349h1v2h-1zM402 349h1v2h-1zM475 349h1v2h-1zM548 349h1v2h-1zM110 353h1v2h-1zM183 353h1v2h-1zM256 353h1v2h-1zM329 353h1v2h-1zM402 353h1v2h-1zM475 353h1v2h-1zM548 353h1v2h-1zM110 357h1v1h-1zM183 357h1v1h-1zM256 357h1v1h-1zM329 357h1v1h-1zM402 357h1v1h-1zM475 357h1v1h-1zM548 357h1v1h-1zM52 358h2v1h-2zM56 358h2v1h-2zM60 358h2v1h-2zM64 358h2v1h-2zM68 358h2v1h-2zM72 358h2v1h-2zM76 358h2v1h-2zM80 358h2v1h-2zM84 358h2v1h-2zM88 358h2v1h-2zM92 358h2v1h-2zM96 358h2v1h-2zM100 358h2v1h-2zM104 358h2v1h-2zM108 358h3v1h-3zM112 358h2v1h-2zM116 358h2v1h-2zM120 358h2v1h-2zM124 358h2v1h-2zM128 358h2v1h-2zM132 358h2v1h-2zM136 358h2v1h-2zM140 358h2v1h-2zM144 358h2v1h-2zM148 358h2v1h-2zM152 358h2v1h-2zM156 358h2v1h-2zM160 358h2v1h-2zM164 358h2v1h-2zM168 358h2v1h-2zM172 358h2v1h-2zM176 358h2v1h-2zM180 358h2v1h-2zM183 358h3v1h-3zM188 358h2v1h-2zM192 358h2v1h-2zM196 358h2v1h-2zM200 358h2v1h-2zM204 358h2v1h-2zM208 358h2v1h-2zM212 358h2v1h-2zM216 358h2v1h-2zM220 358h2v1h-2zM224 358h2v1h-2zM228 358h2v1h-2zM232 358h2v1h-2zM236 358h2v1h-2zM240 358h2v1h-2zM244 358h2v1h-2zM248 358h2v1h-2zM252 358h2v1h-2zM256 358h2v1h-2zM260 358h2v1h-2zM264 358h2v1h-2zM268 358h2v1h-2zM272 358h2v1h-2zM276 358h2v1h-2zM280 358h2v1h-2zM284 358h2v1h-2zM288 358h2v1h-2zM292 358h2v1h-2zM296 358h2v1h-2zM300 358h2v1h-2zM304 358h2v1h-2zM308 358h2v1h-2zM312 358h2v1h-2zM316 358h2v1h-2zM320 358h2v1h-2zM324 358h2v1h-2zM328 358h2v1h-2zM332 358h2v1h-2zM336 358h2v1h-2zM340 358h2v1h-2zM344 358h2v1h-2zM348 358h2v1h-2zM352 358h2v1h-2zM356 358h2v1h-2zM360 358h2v1h-2zM364 358h2v1h-2zM368 358h2v1h-2zM372 358h2v1h-2zM376 358h2v1h-2zM380 358h2v1h-2zM384 358h2v1h-2zM388 358h2v1h-2zM392 358h2v1h-2zM396 358h2v1h-2zM400 358h3v1h-3zM404 358h2v1h-2zM408 358h2v1h-2zM412 358h2v1h-2zM416 358h2v1h-2zM420 358h2v1h-2zM424 358h2v1h-2zM428 358h2v1h-2zM432 358h2v1h-2zM436 358h2v1h-2zM440 358h2v1h-2zM444 358h2v1h-2zM448 358h2v1h-2zM452 358h2v1h-2zM456 358h2v1h-2zM460 358h2v1h-2zM464 358h2v1h-2zM468 358h2v1h-2zM472 358h2v1h-2zM475 358h3v1h-3zM480 358h2v1h-2zM484 358h2v1h-2zM488 358h2v1h-2zM492 358h2v1h-2zM496 358h2v1h-2zM500 358h2v1h-2zM504 358h2v1h-2zM508 358h2v1h-2zM512 358h2v1h-2zM516 358h2v1h-2zM520 358h2v1h-2zM524 358h2v1h-2zM528 358h2v1h-2zM532 358h2v1h-2zM536 358h2v1h-2zM540 358h2v1h-2zM544 358h2v1h-2zM548 358h2v1h-2zM552 358h2v1h-2zM556 358h2v1h-2zM560 358h2v1h-2zM564 358h2v1h-2zM568 358h2v1h-2zM572 358h2v1h-2zM576 358h2v1h-2zM580 358h2v1h-2zM584 358h2v1h-2zM588 358h2v1h-2zM592 358h2v1h-2zM596 358h2v1h-2zM600 358h2v1h-2zM604 358h2v1h-2zM608 358h2v1h-2zM612 358h2v1h-2zM616 358h2v1h-2zM620 358h2v1h-2zM110 361h1v2h-1zM183 361h1v2h-1zM256 361h1v2h-1zM329 361h1v2h-1zM402 361h1v2h-1zM475 361h1v2h-1zM548 361h1v2h-1zM110 365h1v2h-1zM183 365h1v2h-1zM256 365h1v2h-1zM329 365h1v2h-1zM402 365h1v2h-1zM475 365h1v2h-1zM548 365h1v2h-1zM110 369h1v2h-1zM183 369h1v2h-1zM256 369h1v2h-1zM329 369h1v2h-1zM402 369h1v2h-1zM475 369h1v2h-1zM548 369h1v2h-1zM110 373h1v2h-1zM183 373h1v2h-1zM256 373h1v2h-1zM329 373h1v2h-1zM402 373h1v2h-1zM475 373h1v2h-1zM548 373h1v2h-1zM110 377h1v2h-1zM183 377h1v2h-1zM256 377h1v2h-1zM329 377h1v2h-1zM402 377h1v2h-1zM475 377h1v2h-1zM548 377h1v2h-1zM110 381h1v2h-1zM183 381h1v2h-1zM256 381h1v2h-1zM329 381h1v2h-1zM402 381h1v2h-1zM475 381h1v2h-1zM548 381h1v2h-1zM110 385h1v2h-1zM183 385h1v2h-1zM256 385h1v2h-1zM329 385h1v2h-1zM402 385h1v2h-1zM475 385h1v2h-1zM548 385h1v2h-1zM110 389h1v2h-1zM183 389h1v2h-1zM256 389h1v2h-1zM329 389h1v2h-1zM402 389h1v2h-1zM475 389h1v2h-1zM548 389h1v2h-1zM110 393h1v2h-1zM183 393h1v2h-1zM256 393h1v2h-1zM329 393h1v2h-1zM402 393h1v2h-1zM475 393h1v2h-1zM548 393h1v2h-1zM110 397h1v1h-1zM183 397h1v1h-1zM256 397h1v1h-1zM329 397h1v1h-1zM402 397h1v1h-1zM475 397h1v1h-1zM548 397h1v1h-1zM52 398h2v1h-2zM56 398h2v1h-2zM60 398h2v1h-2zM64 398h2v1h-2zM68 398h2v1h-2zM72 398h2v1h-2zM76 398h2v1h-2zM80 398h2v1h-2zM84 398h2v1h-2zM88 398h2v1h-2zM92 398h2v1h-2zM96 398h2v1h-2zM100 398h2v1h-2zM104 398h2v1h-2zM108 398h3v1h-3zM112 398h2v1h-2zM116 398h2v1h-2zM120 398h2v1h-2zM124 398h2v1h-2zM128 398h2v1h-2zM132 398h2v1h-2zM136 398h2v1h-2zM140 398h2v1h-2zM144 398h2v1h-2zM148 398h2v1h-2zM152 398h2v1h-2zM156 398h2v1h-2zM160 398h2v1h-2zM164 398h2v1h-2zM168 398h2v1h-2zM172 398h2v1h-2zM176 398h2v1h-2zM180 398h2v1h-2zM183 398h3v1h-3zM188 398h2v1h-2zM192 398h2v1h-2zM196 398h2v1h-2zM200 398h2v1h-2zM204 398h2v1h-2zM208 398h2v1h-2zM212 398h2v1h-2zM216 398h2v1h-2zM220 398h2v1h-2zM224 398h2v1h-2zM228 398h2v1h-2zM232 398h2v1h-2zM236 398h2v1h-2zM240 398h2v1h-2zM244 398h2v1h-2zM248 398h2v1h-2zM252 398h2v1h-2zM256 398h2v1h-2zM260 398h2v1h-2zM264 398h2v1h-2zM268 398h2v1h-2zM272 398h2v1h-2zM276 398h2v1h-2zM280 398h2v1h-2zM284 398h2v1h-2zM288 398h2v1h-2zM292 398h2v1h-2zM296 398h2v1h-2zM300 398h2v1h-2zM304 398h2v1h-2zM308 398h2v1h-2zM312 398h2v1h-2zM316 398h2v1h-2zM320 398h2v1h-2zM324 398h2v1h-2zM328 398h2v1h-2zM332 398h2v1h-2zM336 398h2v1h-2zM340 398h2v1h-2zM344 398h2v1h-2zM348 398h2v1h-2zM352 398h2v1h-2zM356 398h2v1h-2zM360 398h2v1h-2zM364 398h2v1h-2zM368 398h2v1h-2zM372 398h2v1h-2zM376 398h2v1h-2zM380 398h2v1h-2zM384 398h2v1h-2zM388 398h2v1h-2zM392 398h2v1h-2zM396 398h2v1h-2zM400 398h3v1h-3zM404 398h2v1h-2zM408 398h2v1h-2zM412 398h2v1h-2zM416 398h2v1h-2zM420 398h2v1h-2zM424 398h2v1h-2zM428 398h2v1h-2zM432 398h2v1h-2zM436 398h2v1h-2zM440 398h2v1h-2zM444 398h2v1h-2zM448 398h2v1h-2zM452 398h2v1h-2zM456 398h2v1h-2zM460 398h2v1h-2zM464 398h2v1h-2zM468 398h2v1h-2zM472 398h2v1h-2zM475 398h3v1h-3zM480 398h2v1h-2zM484 398h2v1h-2zM488 398h2v1h-2zM492 398h2v1h-2zM496 398h2v1h-2zM500 398h2v1h-2zM504 398h2v1h-2zM508 398h2v1h-2zM512 398h2v1h-2zM516 398h2v1h-2zM520 398h2v1h-2zM524 398h2v1h-2zM528 398h2v1h-2zM532 398h2v1h-2zM536 398h2v1h-2zM540 398h2v1h-2zM544 398h2v1h-2zM548 398h2v1h-2zM552 398h2v1h-2zM556 398h2v1h-2zM560 398h2v1h-2zM564 398h2v1h-2zM568 398h2v1h-2zM572 398h2v1h-2zM576 398h2v1h-2zM580 398h2v1h-2zM584 398h2v1h-2zM588 398h2v1h-2zM592 398h2v1h-2zM596 398h2v1h-2zM600 398h2v1h-2zM604 398h2v1h-2zM608 398h2v1h-2zM612 398h2v1h-2zM616 398h2v1h-2zM620 398h2v1h-2zM110 401h1v2h-1zM183 401h1v2h-1zM256 401h1v2h-1zM329 401h1v2h-1zM402 401h1v2h-1zM475 401h1v2h-1zM548 401h1v2h-1zM110 405h1v2h-1zM183 405h1v2h-1zM256 405h1v2h-1zM329 405h1v2h-1zM402 405h1v2h-1zM475 405h1v2h-1zM548 405h1v2h-1zM110 409h1v2h-1zM183 409h1v2h-1zM256 409h1v2h-1zM329 409h1v2h-1zM402 409h1v2h-1zM475 409h1v2h-1zM548 409h1v2h-1zM110 413h1v2h-1zM183 413h1v2h-1zM256 413h1v2h-1zM329 413h1v2h-1zM402 413h1v2h-1zM475 413h1v2h-1zM548 413h1v2h-1zM110 417h1v2h-1zM183 417h1v2h-1zM256 417h1v2h-1zM329 417h1v2h-1zM402 417h1v2h-1zM475 417h1v2h-1zM548 417h1v2h-1zM110 421h1v2h-1zM183 421h1v2h-1zM256 421h1v2h-1zM329 421h1v2h-1zM402 421h1v2h-1zM475 421h1v2h-1zM548 421h1v2h-1zM110 425h1v2h-1zM183 425h1v2h-1zM256 425h1v2h-1zM329 425h1v2h-1zM402 425h1v2h-1zM475 425h1v2h-1zM548 425h1v2h-1zM110 429h1v2h-1zM183 429h1v2h-1zM256 429h1v2h-1zM329 429h1v2h-1zM402 429h1v2h-1zM475 429h1v2h-1zM548 429h1v2h-1zM110 433h1v2h-1zM183 433h1v2h-1zM256 433h1v2h-1zM329 433h1v2h-1zM402 433h1v2h-1zM475 433h1v2h-1zM548 433h1v2h-1zM110 437h1v2h-1zM183 437h1v2h-1zM256 437h1v2h-1zM329 437h1v2h-1zM402 437h1v2h-1zM475 437h1v2h-1zM548 437h1v2h-1z"/>
<path fill="#000" d="M53 39h4v1h-4zM617 39h4v1h-4zM110 40h1v4h-1zM183 40h1v4h-1zM256 40h1v4h-1zM329 40h1v4h-1zM402 40h1v4h-1zM475 40h1v4h-1zM548 40h1v4h-1zM621 40h1v4h-1zM53 79h4v1h-4zM617 79h4v1h-4zM53 119h4v1h-4zM617 119h4v1h-4zM53 159h4v1h-4zM617 159h4v1h-4zM53 199h4v1h-4zM617 199h4v1h-4zM53 238h4v1h-4zM617 238h4v1h-4zM53 278h4v1h-4zM617 278h4v1h-4zM53 318h4v1h-4zM617 318h4v1h-4zM53 358h4v1h-4zM617 358h4v1h-4zM53 398h4v1h-4zM617 398h4v1h-4zM110 434h1v4h-1zM183 434h1v4h-1zM256 434h1v4h-1zM329 434h1v4h-1zM402 434h1v4h-1zM475 434h1v4h-1zM548 434h1v4h-1zM621 434h1v4h-1zM53 438h4v1h-4zM617 438h4v1h-4z"/>
<path fill="#56b4e9" d="M67 40h15v1h-15zM81 41h30v1h-30zM110 42h1v3h-1zM110 45h16v1h-16zM125 46h1v44h-1zM125 90h16v1h-16zM140 91h1v9h-1zM140 100h15v1h-15zM154 101h1v19h-1zM154 120h16v1h-16zM169 121h1v48h-1zM169 169h15v1h-15zM183 170h1v29h-1zM183 199h16v1h-16zM198 200h1v31h-1zM198 231h15v1h-15zM212 232h1v22h-1zM212 254h16v1h-16zM227 255h1v26h-1zM227 281h16v1h-16zM242 282h1v22h-1zM242 304h15v1h-15zM256 305h1v19h-1zM256 324h16v1h-16zM271 325h1v25h-1zM271 350h15v1h-15zM285 351h1v17h-1zM285 368h16v1h-16zM300 369h1v12h-1zM300 381h16v1h-16zM315 382h1v9h-1zM315 391h15v1h-15zM329 392h1v11h-1zM329 403h16v1h-16zM344 404h1v8h-1zM344 412h15v1h-15zM358 413h1v6h-1zM358 419h16v1h-16zM373 420h1v8h-1zM373 428h16v1h-16zM388 429h1v3h-1zM388 432h15v1h-15zM402 433h1v1h-1zM402 434h16v1h-16zM417 435h15v1h-15zM431 436h16v1h-16zM446 437h30v1h-30z"/>
<path fill="#000" d="M52 39h570v1h-570zM52 40h1v398h-1zM621 40h1v398h-1zM52 438h570v1h-570z"/>
<path fill="#000" d="M172 17h3v1h-3zM178 17h3v1h-3zM183 17h4v1h-4zM189 17h5v1h-5zM209 17h2v1h-2zM220 17h3v1h-3zM225 17h4v1h-4zM250 17h1v2h-1zM255 17h1v3h-1zM268 17h2v1h-2zM292 17h1v2h-1zM297 17h1v3h-1zM317 17h2v1h-2zM403 17h1v3h-1zM407 17h1v1h-1zM433 17h1v3h-1zM448 17h1v2h-1zM455 17h1v1h-1zM472 17h1v2h-1zM479 17h1v1h-1zM171 18h1v6h-1zM175 18h1v1h-1zM177 18h1v6h-1zM181 18h1v1h-1zM183 18h1v6h-1zM187 18h1v6h-1zM189 18h1v2h-1zM208 18h1v3h-1zM211 18h1v1h-1zM221 18h1v6h-1zM225 18h1v3h-1zM229 18h1v3h-1zM269 18h1v6h-1zM289 18h1v1h-1zM316 18h1v3h-1zM319 18h1v1h-1zM421 18h1v1h-1zM202 19h3v1h-3zM237 19h1v1h-1zM239 19h2v1h-2zM244 19h3v1h-3zM249 19h4v1h-4zM257 19h2v1h-2zM274 19h3v1h-3zM279 19h1v1h-1zM281 19h2v1h-2zM286 19h3v1h-3zM291 19h4v1h-4zM299 19h2v1h-2zM304 19h3v1h-3zM322 19h3v1h-3zM327 19h1v1h-1zM329 19h2v1h-2zM339 19h1v1h-1zM341 19h2v1h-2zM346 19h3v1h-3zM351 19h1v1h-1zM353 19h2v1h-2zM363 19h1v1h-1zM365 19h2v1h-2zM370 19h3v1h-3zM376 19h3v1h-3zM381 19h1v1h-1zM383 19h2v1h-2zM388 19h3v1h-3zM393 19h1v1h-1zM395 19h2v1h-2zM400 19h2v1h-2zM406 19h2v1h-2zM411 19h1v1h-1zM413 19h2v1h-2zM418 19h3v1h-3zM430 19h2v1h-2zM436 19h3v1h-3zM442 19h3v1h-3zM447 19h4v1h-4zM454 19h2v1h-2zM459 19h1v1h-1zM461 19h2v1h-2zM466 19h3v1h-3zM471 19h4v1h-4zM478 19h2v1h-2zM484 19h3v1h-3zM489 19h1v1h-1zM491 19h2v1h-2zM496 19h3v1h-3zM189 20h4v1h-4zM201 20h1v4h-1zM205 20h1v4h-1zM237 20h2v1h-2zM241 20h1v4h-1zM247 20h1v1h-1zM250 20h1v4h-1zM255 20h2v1h-2zM259 20h1v5h-1zM273 20h1v1h-1zM277 20h1v1h-1zM279 20h2v1h-2zM283 20h1v5h-1zM285 20h1v2h-1zM289 20h1v2h-1zM292 20h1v4h-1zM297 20h2v1h-2zM301 20h1v5h-1zM303 20h1v1h-1zM307 20h1v1h-1zM321 20h1v4h-1zM325 20h1v4h-1zM327 20h2v1h-2zM331 20h1v1h-1zM339 20h2v1h-2zM343 20h1v5h-1zM345 20h1v4h-1zM349 20h1v4h-1zM351 20h2v1h-2zM355 20h1v5h-1zM363 20h2v1h-2zM367 20h1v1h-1zM369 20h1v1h-1zM373 20h1v1h-1zM375 20h1v1h-1zM379 20h1v1h-1zM381 20h2v1h-2zM385 20h1v4h-1zM387 20h1v4h-1zM391 20h1v4h-1zM393 20h2v1h-2zM397 20h1v5h-1zM399 20h1v4h-1zM402 20h2v1h-2zM407 20h1v4h-1zM411 20h2v1h-2zM415 20h1v5h-1zM417 20h1v2h-1zM421 20h1v2h-1zM429 20h1v4h-1zM432 20h2v1h-2zM435 20h1v1h-1zM439 20h1v1h-1zM441 20h1v1h-1zM445 20h1v1h-1zM448 20h1v4h-1zM455 20h1v4h-1zM459 20h2v1h-2zM463 20h1v5h-1zM469 20h1v1h-1zM472 20h1v4h-1zM479 20h1v4h-1zM483 20h1v4h-1zM487 20h1v4h-1zM489 20h2v1h-2zM493 20h1v5h-1zM495 20h1v1h-1zM499 20h1v1h-1zM189 21h1v4h-1zM207 21h4v1h-4zM225 21h4v1h-4zM237 21h1v2h-1zM244 21h4v1h-4zM255 21h1v4h-1zM273 21h5v1h-5zM279 21h1v4h-1zM297 21h1v4h-1zM304 21h2v1h-2zM315 21h4v1h-4zM327 21h1v4h-1zM339 21h1v4h-1zM351 21h1v4h-1zM357 21h5v1h-5zM363 21h1v4h-1zM369 21h5v1h-5zM376 21h2v1h-2zM381 21h1v2h-1zM393 21h1v4h-1zM403 21h1v2h-1zM411 21h1v4h-1zM433 21h1v2h-1zM435 21h5v1h-5zM442 21h2v1h-2zM459 21h1v4h-1zM466 21h4v1h-4zM489 21h1v4h-1zM496 21h2v1h-2zM208 22h1v3h-1zM225 22h1v3h-1zM243 22h1v2h-1zM247 22h1v1h-1zM273 22h1v2h-1zM286 22h3v1h-3zM306 22h1v1h-1zM316 22h1v3h-1zM369 22h1v2h-1zM378 22h1v1h-1zM418 22h3v1h-3zM435 22h1v2h-1zM444 22h1v1h-1zM465 22h1v2h-1zM469 22h1v1h-1zM498 22h1v1h-1zM175 23h1v1h-1zM181 23h1v1h-1zM237 23h2v1h-2zM246 23h2v1h-2zM253 23h1v1h-1zM285 23h1v1h-1zM295 23h1v1h-1zM303 23h1v1h-1zM307 23h1v1h-1zM375 23h1v1h-1zM379 23h1v1h-1zM381 23h2v1h-2zM402 23h2v1h-2zM417 23h1v1h-1zM432 23h2v1h-2zM441 23h1v1h-1zM445 23h1v1h-1zM451 23h1v1h-1zM468 23h2v1h-2zM475 23h1v1h-1zM495 23h1v1h-1zM499 23h1v1h-1zM172 24h3v1h-3zM178 24h3v1h-3zM183 24h4v1h-4zM202 24h3v1h-3zM220 24h3v1h-3zM237 24h1v3h-1zM239 24h2v1h-2zM244 24h2v1h-2zM247 24h1v1h-1zM251 24h2v1h-2zM268 24h3v1h-3zM274 24h3v1h-3zM286 24h3v1h-3zM293 24h2v1h-2zM304 24h3v1h-3zM322 24h3v1h-3zM346 24h3v1h-3zM370 24h3v1h-3zM376 24h3v1h-3zM381 24h1v3h-1zM383 24h2v1h-2zM388 24h3v1h-3zM400 24h2v1h-2zM403 24h1v1h-1zM406 24h3v1h-3zM418 24h3v1h-3zM430 24h2v1h-2zM433 24h1v1h-1zM436 24h3v1h-3zM442 24h3v1h-3zM449 24h2v1h-2zM454 24h3v1h-3zM466 24h2v1h-2zM469 24h1v1h-1zM473 24h2v1h-2zM478 24h3v1h-3zM484 24h3v1h-3zM496 24h3v1h-3zM285 25h1v1h-1zM289 25h1v1h-1zM417 25h1v1h-1zM421 25h1v1h-1zM286 26h3v1h-3zM418 26h3v1h-3zM42 36h1v1h-1zM41 37h2v1h-2zM40 38h1v1h-1zM42 38h1v5h-1zM40 43h5v1h-5zM30 76h1v1h-1zM41 76h3v1h-3zM29 77h1v1h-1zM31 77h1v1h-1zM40 77h1v3h-1zM44 77h1v3h-1zM28 78h1v4h-1zM32 78h1v4h-1zM41 80h4v1h-4zM44 81h1v1h-1zM29 82h1v1h-1zM31 82h1v1h-1zM36 82h2v2h-2zM43 82h1v1h-1zM30 83h1v1h-1zM40 83h3v1h-3zM30 116h1v1h-1zM41 116h3v1h-3zM29 117h1v1h-1zM31 117h1v1h-1zM40 117h1v2h-1zM44 117h1v2h-1zM28 118h1v4h-1zM32 118h1v4h-1zM41 119h3v1h-3zM40 120h1v3h-1zM44 120h1v3h-1zM29 122h1v1h-1zM31 122h1v1h-1zM36 122h2v2h-2zM30 123h1v1h-1zM41 123h3v1h-3zM30 156h1v1h-1zM40 156h5v1h-5zM29 157h1v1h-1zM31 157h1v1h-1zM44 157h1v1h-1zM28 158h1v4h-1zM32 158h1v4h-1zM43 158h1v2h-1zM42 160h1v2h-1zM29 162h1v1h-1zM31 162h1v1h-1zM36 162h2v2h-2zM41 162h1v2h-1zM30 163h1v1h-1zM30 196h1v1h-1zM42 196h3v1h-3zM29 197h1v1h-1zM31 197h1v1h-1zM41 197h1v1h-1zM28 198h1v4h-1zM32 198h1v4h-1zM40 198h1v1h-1zM40 199h4v1h-4zM40 200h1v3h-1zM44 200h1v3h-1zM29 202h1v1h-1zM31 202h1v1h-1zM36 202h2v2h-2zM30 203h1v1h-1zM41 203h3v1h-3zM8 229h1v4h-1zM11 230h1v3h-1zM8 233h8v1h-8zM9 235h6v1h-6zM30 235h1v1h-1zM40 235h5v1h-5zM8 236h1v3h-1zM15 236h1v3h-1zM29 236h1v1h-1zM31 236h1v1h-1zM40 236h1v1h-1zM28 237h1v4h-1zM32 237h1v4h-1zM40 237h4v1h-4zM40 238h1v1h-1zM44 238h1v4h-1zM8 239h8v1h-8zM9 241h1v1h-1zM14 241h1v1h-1zM29 241h1v1h-1zM31 241h1v1h-1zM36 241h2v2h-2zM40 241h1v1h-1zM8 242h1v3h-1zM15 242h1v3h-1zM30 242h1v1h-1zM41 242h3v1h-3zM9 245h6v1h-6zM9 247h1v1h-1zM14 247h1v1h-1zM8 248h1v3h-1zM15 248h1v3h-1zM9 251h6v1h-6zM30 275h1v1h-1zM43 275h1v1h-1zM29 276h1v1h-1zM31 276h1v1h-1zM42 276h2v1h-2zM28 277h1v4h-1zM32 277h1v4h-1zM41 277h1v1h-1zM43 277h1v3h-1zM40 278h1v2h-1zM40 280h5v1h-5zM29 281h1v1h-1zM31 281h1v1h-1zM36 281h2v2h-2zM43 281h1v2h-1zM30 282h1v1h-1zM30 315h1v1h-1zM41 315h3v1h-3zM29 316h1v1h-1zM31 316h1v1h-1zM40 316h1v1h-1zM44 316h1v2h-1zM28 317h1v4h-1zM32 317h1v4h-1zM42 318h2v1h-2zM44 319h1v3h-1zM29 321h1v1h-1zM31 321h1v1h-1zM36 321h2v2h-2zM40 321h1v1h-1zM30 322h1v1h-1zM41 322h3v1h-3zM30 355h1v1h-1zM41 355h3v1h-3zM29 356h1v1h-1zM31 356h1v1h-1zM40 356h1v1h-1zM44 356h1v2h-1zM28 357h1v4h-1zM32 357h1v4h-1zM43 358h1v1h-1zM42 359h1v1h-1zM41 360h1v1h-1zM29 361h1v1h-1zM31 361h1v1h-1zM36 361h2v2h-2zM40 361h1v1h-1zM30 362h1v1h-1zM40 362h5v1h-5zM30 395h1v1h-1zM42 395h1v1h-1zM29 396h1v1h-1zM31 396h1v1h-1zM41 396h2v1h-2zM28 397h1v4h-1zM32 397h1v4h-1zM40 397h1v1h-1zM42 397h1v5h-1zM29 401h1v1h-1zM31 401h1v1h-1zM36 401h2v2h-2zM30 402h1v1h-1zM40 402h5v1h-5zM42 435h1v1h-1zM41 436h1v1h-1zM43 436h1v1h-1zM40 437h1v4h-1zM44 437h1v4h-1zM41 441h1v1h-1zM43 441h1v1h-1zM42 442h1v1h-1zM110 448h5v1h-5zM182 448h1v1h-1zM188 448h1v1h-1zM255 448h1v1h-1zM259 448h5v1h-5zM327 448h3v1h-3zM334 448h1v1h-1zM400 448h3v1h-3zM405 448h5v1h-5zM473 448h3v1h-3zM480 448h1v1h-1zM546 448h3v1h-3zM551 448h5v1h-5zM621 448h1v1h-1zM626 448h1v1h-1zM110 449h1v1h-1zM181 449h2v1h-2zM187 449h1v1h-1zM189 449h1v1h-1zM254 449h2v1h-2zM259 449h1v1h-1zM326 449h1v1h-1zM330 449h1v2h-1zM333 449h1v1h-1zM335 449h1v1h-1zM399 449h1v1h-1zM403 449h1v2h-1zM405 449h1v1h-1zM472 449h1v1h-1zM476 449h1v2h-1zM479 449h1v1h-1zM481 449h1v1h-1zM545 449h1v1h-1zM549 449h1v2h-1zM551 449h1v1h-1zM620 449h2v1h-2zM625 449h1v1h-1zM627 449h1v1h-1zM110 450h4v1h-4zM180 450h1v1h-1zM182 450h1v5h-1zM186 450h1v4h-1zM190 450h1v4h-1zM253 450h1v1h-1zM255 450h1v5h-1zM259 450h4v1h-4zM332 450h1v4h-1zM336 450h1v4h-1zM405 450h4v1h-4zM478 450h1v4h-1zM482 450h1v4h-1zM551 450h4v1h-4zM619 450h1v1h-1zM621 450h1v3h-1zM624 450h1v4h-1zM628 450h1v4h-1zM110 451h1v1h-1zM114 451h1v4h-1zM259 451h1v1h-1zM263 451h1v4h-1zM329 451h1v1h-1zM402 451h1v1h-1zM405 451h1v1h-1zM409 451h1v4h-1zM474 451h2v1h-2zM547 451h2v1h-2zM551 451h1v1h-1zM555 451h1v4h-1zM618 451h1v2h-1zM328 452h1v1h-1zM401 452h1v1h-1zM476 452h1v3h-1zM549 452h1v3h-1zM327 453h1v1h-1zM400 453h1v1h-1zM618 453h5v1h-5zM110 454h1v1h-1zM187 454h1v1h-1zM189 454h1v1h-1zM259 454h1v1h-1zM326 454h1v1h-1zM333 454h1v1h-1zM335 454h1v1h-1zM399 454h1v1h-1zM405 454h1v1h-1zM472 454h1v1h-1zM479 454h1v1h-1zM481 454h1v1h-1zM545 454h1v1h-1zM551 454h1v1h-1zM621 454h1v2h-1zM625 454h1v1h-1zM627 454h1v1h-1zM111 455h3v1h-3zM180 455h5v1h-5zM188 455h1v1h-1zM253 455h5v1h-5zM260 455h3v1h-3zM326 455h5v1h-5zM334 455h1v1h-1zM399 455h5v1h-5zM406 455h3v1h-3zM473 455h3v1h-3zM480 455h1v1h-1zM546 455h3v1h-3zM552 455h3v1h-3zM626 455h1v1h-1zM295 467h3v1h-3zM300 467h4v1h-4zM325 467h1v2h-1zM330 467h1v3h-1zM343 467h2v1h-2zM367 467h1v2h-1zM372 467h1v3h-1zM296 468h1v6h-1zM300 468h1v3h-1zM304 468h1v3h-1zM344 468h1v6h-1zM364 468h1v1h-1zM312 469h1v1h-1zM314 469h2v1h-2zM319 469h3v1h-3zM324 469h4v1h-4zM332 469h2v1h-2zM349 469h3v1h-3zM354 469h1v1h-1zM356 469h2v1h-2zM361 469h3v1h-3zM366 469h4v1h-4zM374 469h2v1h-2zM312 470h2v1h-2zM316 470h1v4h-1zM322 470h1v1h-1zM325 470h1v4h-1zM330 470h2v1h-2zM334 470h1v5h-1zM348 470h1v1h-1zM352 470h1v1h-1zM354 470h2v1h-2zM358 470h1v5h-1zM360 470h1v2h-1zM364 470h1v2h-1zM367 470h1v4h-1zM372 470h2v1h-2zM376 470h1v5h-1zM300 471h4v1h-4zM312 471h1v2h-1zM319 471h4v1h-4zM330 471h1v4h-1zM348 471h5v1h-5zM354 471h1v4h-1zM372 471h1v4h-1zM300 472h1v3h-1zM318 472h1v2h-1zM322 472h1v1h-1zM348 472h1v2h-1zM361 472h3v1h-3zM312 473h2v1h-2zM321 473h2v1h-2zM328 473h1v1h-1zM360 473h1v1h-1zM370 473h1v1h-1zM295 474h3v1h-3zM312 474h1v3h-1zM314 474h2v1h-2zM319 474h2v1h-2zM322 474h1v1h-1zM326 474h2v1h-2zM343 474h3v1h-3zM349 474h3v1h-3zM361 474h3v1h-3zM368 474h2v1h-2zM360 475h1v1h-1zM364 475h1v1h-1zM361 476h3v1h-3z"/>
</svg>
</body></html>
